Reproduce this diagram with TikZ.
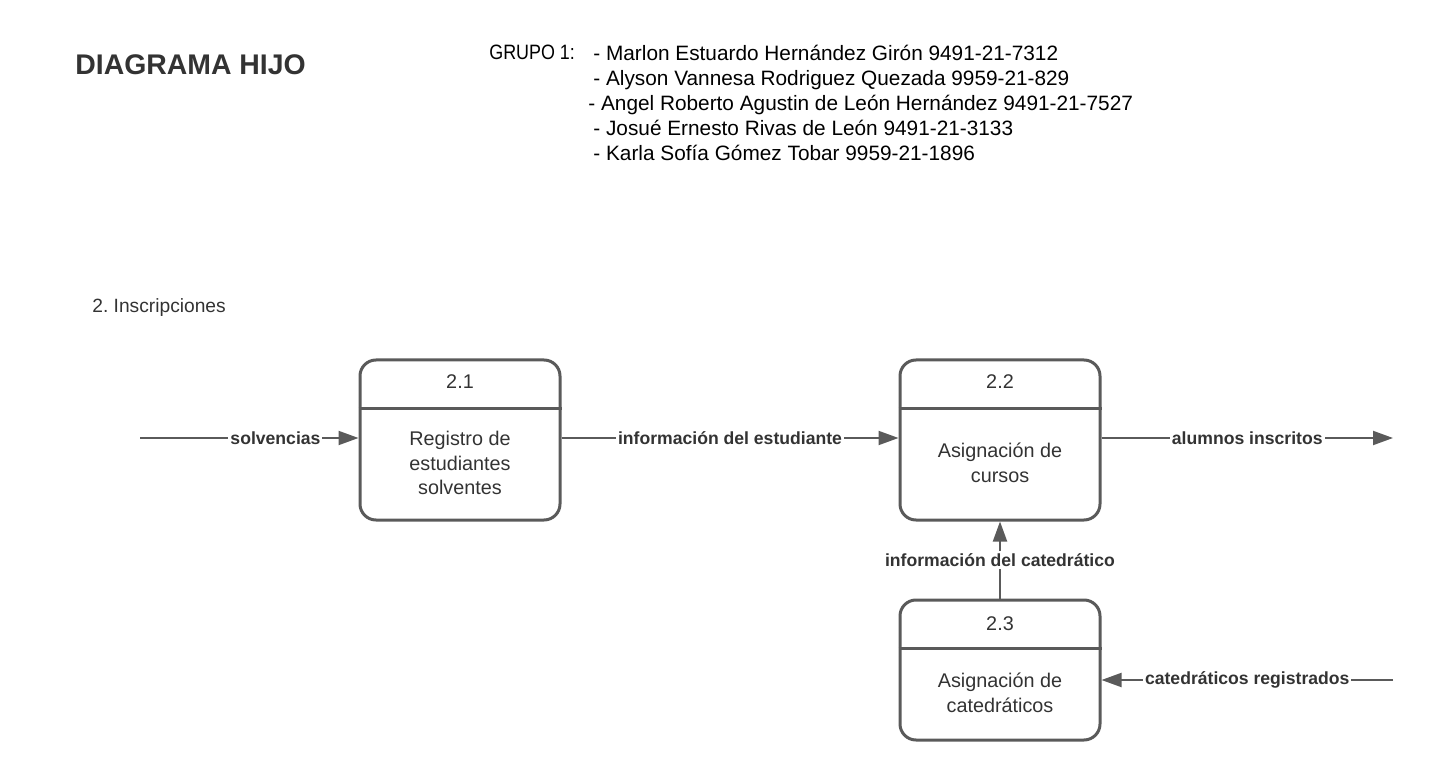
\documentclass[tikz,border=0pt]{standalone}
\usepackage{fontspec}
\setmainfont{Liberation Sans}
\newfontfamily\grupofont[FakeStretch=0.86]{Liberation Sans}
\usepackage{tikz}
\usetikzlibrary{arrows.meta}
\usetikzlibrary{positioning}
\definecolor{lineGray}{HTML}{5A5A5A}
\definecolor{textGray}{HTML}{333333}

\tikzset{
  procbox/.style={draw=lineGray, line width=1.5pt, rounded corners=8pt,
    minimum width=100pt, inner sep=0pt},
  boxtext/.style={text=textGray, align=center,
    font=\fontsize{9.9}{12.3}\selectfont},
  flow/.style={draw=lineGray, line width=1pt,
    -{Triangle[length=10pt,width=7pt]}},
  flowlabel/.style={fill=white, text=textGray, inner sep=1pt,
    font=\bfseries\fontsize{8.8}{10}\selectfont},
}

\begin{document}
\begin{tikzpicture}[x=0.5pt,y=-0.5pt]
  \useasboundingbox (0,0) rectangle (1435,780);

  %% header
  \node[anchor=west, text=textGray, inner sep=0pt,
    font=\bfseries\fontsize{14.2}{16}\selectfont] (title) at (75,65) {DIAGRAMA HIJO};
  \node[anchor=north west, inner sep=0pt, align=left,
    font=\fontsize{10.4}{12.5}\selectfont] (miembros) at (593,45)
    {- Marlon Estuardo Hernández Girón 9491-21-7312\\
     - Alyson Vannesa Rodriguez Quezada 9959-21-829\\
     \hspace{-2.5pt}- Angel Roberto Agustin de León Hernández 9491-21-7527\\
     - Josué Ernesto Rivas de León 9491-21-3133\\
     - Karla Sofía Gómez Tobar 9959-21-1896};
  \node[anchor=base west, inner sep=0pt,
    font=\grupofont\fontsize{10.4}{12.5}\selectfont] (grupo) at (489,60) {GRUPO 1:};

  \node[anchor=west, text=textGray, inner sep=0pt,
    font=\frenchspacing\fontsize{9.6}{11}\selectfont] (seccion) at (92,308) {2. Inscripciones};

  %% processes
  % 2.1
  \node[procbox, minimum height=80pt] (p21) at (460,440) {};
  \draw[lineGray, line width=1.5pt] ([yshift=-25pt]p21.north west) -- ([yshift=-25pt]p21.north east);
  \node[boxtext] (n21) at (460,382) {2.1};
  \node[boxtext] (t21) at (460,463) {Registro de\\estudiantes\\solventes};

  % 2.2
  \node[procbox, minimum height=80pt] (p22) at (1000,440) {};
  \draw[lineGray, line width=1.5pt] ([yshift=-25pt]p22.north west) -- ([yshift=-25pt]p22.north east);
  \node[boxtext] (n22) at (1000,382) {2.2};
  \node[boxtext] (t22) at (1000,463) {Asignación de\\cursos};

  % 2.3
  \node[procbox, minimum height=70pt] (p23) at (1000,670) {};
  \draw[lineGray, line width=1.5pt] ([yshift=-25pt]p23.north west) -- ([yshift=-25pt]p23.north east);
  \node[boxtext] (n23) at (1000,624) {2.3};
  \node[boxtext] (t23) at (1000,693) {Asignación de\\catedráticos};

  %% flows
  \coordinate (ent) at (140,438);
  \coordinate (sal) at (1393,438);
  \coordinate (reg) at (1393,680);

  \draw[flow] (ent) -- (ent -| p21.west)
    node[flowlabel, pos=0.62] {solvencias};
  \draw[flow] (p21.east |- ent) -- (p22.west |- ent)
    node[flowlabel, midway] {información del estudiante};
  \draw[flow] (p22.east |- sal) -- (sal)
    node[flowlabel, midway] {alumnos inscritos};
  \draw[flow] (p23.north) -- (p22.south)
    node[flowlabel, midway] {información del catedrático};
  \draw[flow] (reg) -- (reg -| p23.east)
    node[flowlabel, midway] {catedráticos registrados};
\end{tikzpicture}
\end{document}
